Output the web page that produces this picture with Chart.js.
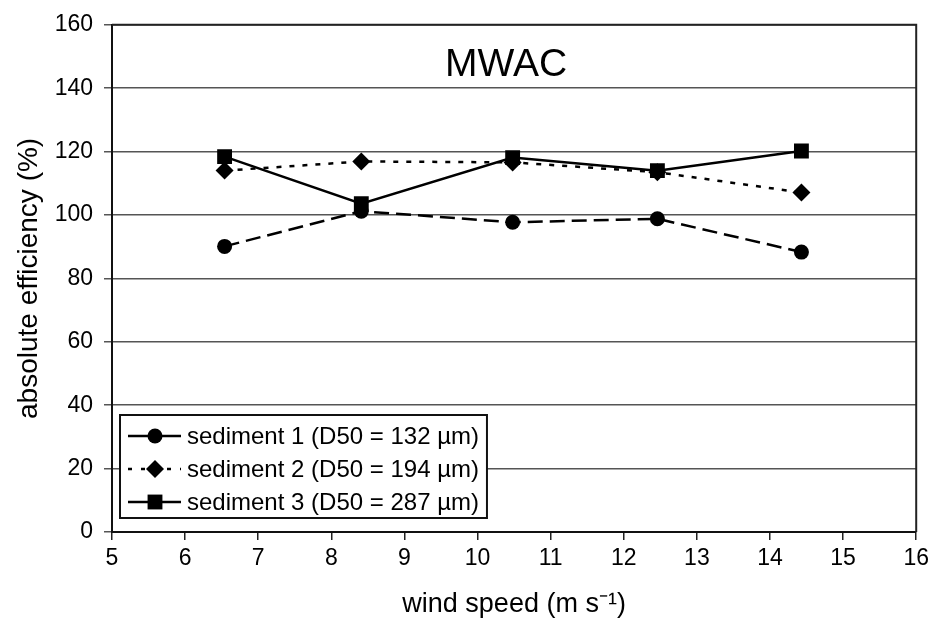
<!DOCTYPE html>
<html>
<head>
<meta charset="utf-8">
<title>MWAC absolute efficiency</title>
<script src="https://cdn.jsdelivr.net/npm/chart.js@4.4.1/dist/chart.umd.min.js"></script>
<style>
    html, body { margin: 0; padding: 0; background: #fff; }
    #chart { display: block; }
</style>
</head>
<body>
<canvas id="chart" width="934" height="635"></canvas>
<script>
// wind speed (m/s) of each run
const windSpeed = [6.54, 8.41, 10.48, 12.46, 14.43];

// absolute efficiency (%) per sediment
const sediment1 = [90.1, 101.2, 97.7, 98.8, 88.3];
const sediment2 = [114.0, 116.9, 116.6, 113.5, 107.1];
const sediment3 = [118.4, 103.6, 118.1, 114.0, 120.2];

const seriesNames = [
    'sediment 1 (D50 = 132 µm)',
    'sediment 2 (D50 = 194 µm)',
    'sediment 3 (D50 = 287 µm)'
];

const chartTitle = 'MWAC';
const xTitle = 'wind speed (m s⁻¹)';
const yTitle = 'absolute efficiency (%)';

const FONT = '"Liberation Sans", Arial, Helvetica, sans-serif';

function toPoints(values) {
    return values.map((v, i) => ({ x: windSpeed[i], y: v }));
}

// draw a marker the same way for the legend
function drawMarker(ctx, style, x, y, r) {
    ctx.beginPath();
    if (style === 'circle') {
        ctx.arc(x, y, r, 0, Math.PI * 2);
    } else if (style === 'rectRot') {
        ctx.moveTo(x - r, y);
        ctx.lineTo(x, y - r);
        ctx.lineTo(x + r, y);
        ctx.lineTo(x, y + r);
        ctx.closePath();
    } else {
        const s = r * Math.SQRT1_2;
        ctx.rect(x - s, y - s, 2 * s, 2 * s);
    }
    ctx.fill();
}

// plot frame (top and right side)
const frame = {
    id: 'frame',
    beforeDatasetsDraw(chart) {
        const { ctx, chartArea } = chart;
        ctx.save();
        ctx.strokeStyle = '#222';
        ctx.lineWidth = 2;
        ctx.beginPath();
        ctx.moveTo(chartArea.left, chartArea.top);
        ctx.lineTo(chartArea.right, chartArea.top);
        ctx.lineTo(chartArea.right, chartArea.bottom);
        ctx.stroke();
        ctx.restore();
    }
};

// title inside the plot area
const innerTitle = {
    id: 'innerTitle',
    afterDraw(chart) {
        const { ctx, chartArea } = chart;
        ctx.save();
        ctx.font = '39px ' + FONT;
        ctx.fillStyle = '#000';
        ctx.textAlign = 'center';
        ctx.textBaseline = 'alphabetic';
        ctx.fillText(chartTitle, (chartArea.left + chartArea.right) / 2 - 8, chartArea.top + 51);
        ctx.restore();
    }
};

// boxed legend with line + marker samples, bottom left in the plot
const boxLegend = {
    id: 'boxLegend',
    afterDatasetsDraw(chart) {
        const { ctx, chartArea } = chart;
        const datasets = chart.data.datasets;
        ctx.save();
        ctx.font = '24px ' + FONT;
        const rowH = 33;
        const textW = Math.max(...seriesNames.map(n => ctx.measureText(n).width));
        const w = 67 + textW + 8;
        const h = rowH * (datasets.length - 1) + 37;
        const x0 = chartArea.left + 8;
        const y0 = chartArea.bottom - 14 - h;

        ctx.fillStyle = '#fff';
        ctx.fillRect(x0, y0, w, h);
        ctx.strokeStyle = '#111';
        ctx.lineWidth = 2;
        ctx.strokeRect(x0, y0, w, h);

        datasets.forEach((ds, i) => {
            const cy = y0 + 21 + i * rowH;
            ctx.strokeStyle = ds.borderColor;
            ctx.lineWidth = ds.borderWidth;
            ctx.setLineDash(ds.legendDash || []);
            ctx.beginPath();
            ctx.moveTo(x0 + 8, cy);
            ctx.lineTo(x0 + 61, cy);
            ctx.stroke();
            ctx.setLineDash([]);
            ctx.fillStyle = ds.pointBackgroundColor;
            drawMarker(ctx, ds.pointStyle, x0 + 35, cy, ds.pointRadius);
            ctx.fillStyle = '#000';
            ctx.textAlign = 'left';
            ctx.textBaseline = 'middle';
            ctx.fillText(ds.label, x0 + 67, cy + 1);
        });
        ctx.restore();
    }
};

new Chart(document.getElementById('chart'), {
    type: 'line',
    data: {
        datasets: [{
            label: seriesNames[0],
            data: toPoints(sediment1),
            borderColor: '#000',
            borderWidth: 2.5,
            borderDash: [15, 7],
            legendDash: [],
            pointStyle: 'circle',
            pointRadius: 7.5,
            pointBackgroundColor: '#000',
            pointBorderColor: '#000',
            pointBorderWidth: 0,
            order: 3
        }, {
            label: seriesNames[1],
            data: toPoints(sediment2),
            borderColor: '#000',
            borderWidth: 2.5,
            borderDash: [5, 8],
            legendDash: [4, 9],
            pointStyle: 'rectRot',
            pointRadius: 9,
            pointBackgroundColor: '#000',
            pointBorderColor: '#000',
            pointBorderWidth: 0,
            order: 2
        }, {
            label: seriesNames[2],
            data: toPoints(sediment3),
            borderColor: '#000',
            borderWidth: 2.5,
            legendDash: [],
            pointStyle: 'rect',
            pointRadius: 10.5,
            pointBackgroundColor: '#000',
            pointBorderColor: '#000',
            pointBorderWidth: 0,
            order: 1
        }]
    },
    options: {
        responsive: false,
        animation: false,
        layout: {
            padding: { top: 17, right: 13, bottom: 0, left: 0 }
        },
        plugins: {
            legend: { display: false },
            title: { display: false },
            tooltip: { enabled: false }
        },
        scales: {
            x: {
                type: 'linear',
                min: 5,
                max: 16,
                afterFit: function(scale) { scale.height = 103; },
                ticks: {
                    stepSize: 1,
                    color: '#000',
                    padding: 5,
                    font: { family: FONT, size: 23 }
                },
                grid: {
                    drawOnChartArea: false,
                    drawTicks: true,
                    tickLength: 8,
                    color: '#222',
                    lineWidth: 1.5
                },
                border: { display: true, color: '#111', width: 2 },
                title: {
                    display: true,
                    text: xTitle,
                    color: '#000',
                    font: { family: FONT, size: 27 },
                    padding: { top: 0, bottom: 14 }
                }
            },
            y: {
                min: 0,
                max: 160,
                afterFit: function(scale) { scale.width = 112; },
                ticks: {
                    stepSize: 20,
                    color: '#000',
                    padding: 11,
                    font: { family: FONT, size: 23 }
                },
                grid: {
                    drawTicks: true,
                    tickLength: 8,
                    color: '#555',
                    lineWidth: 1.5
                },
                border: { display: true, color: '#111', width: 2 },
                title: {
                    display: true,
                    text: yTitle,
                    color: '#000',
                    font: { family: FONT, size: 28 },
                    padding: { top: 12, bottom: 0 }
                }
            }
        }
    },
    plugins: [frame, boxLegend, innerTitle]
});
</script>
</body>
</html>
